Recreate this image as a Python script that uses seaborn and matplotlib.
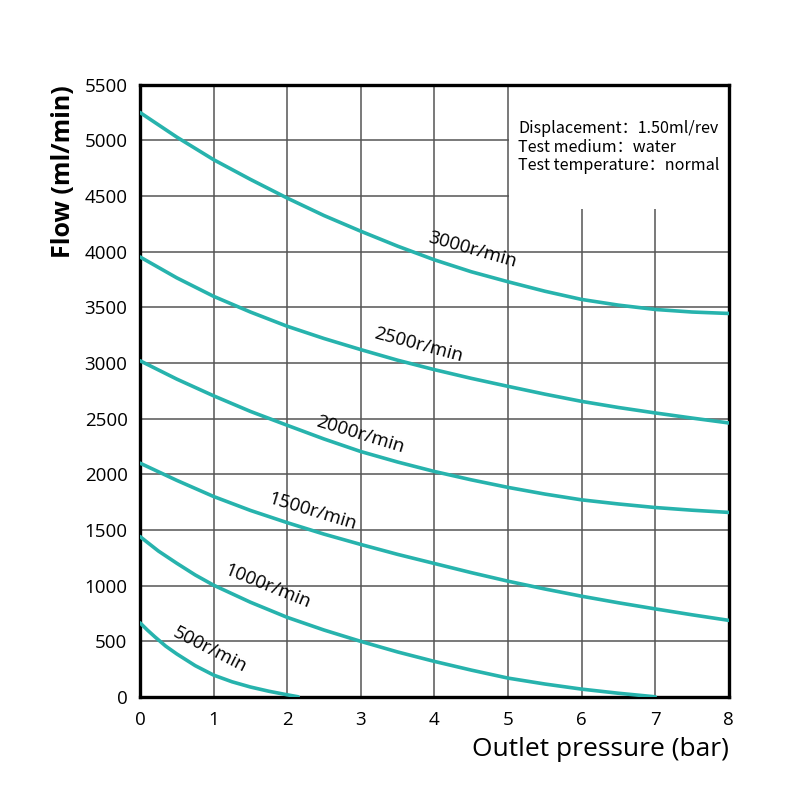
## pump flow vs outlet pressure curves
import matplotlib
matplotlib.use("Agg")
import matplotlib.pyplot as plt
import matplotlib.patches as patches
import seaborn as sns
import pandas as pd

## values
speeds = ["500r/min", "1000r/min", "1500r/min", "2000r/min", "2500r/min", "3000r/min"]

p_500 = [0, 0.1, 0.2, 0.35, 0.5, 0.75, 1, 1.25, 1.5, 1.75, 2, 2.15]
q_500 = [665, 600, 540, 455, 385, 280, 195, 135, 88, 50, 18, 0]
p_1000 = [0, 0.25, 0.5, 0.75, 1, 1.5, 2, 2.5, 3, 3.5, 4, 4.5, 5, 5.5, 6, 6.5, 7]
q_1000 = [1440, 1310, 1200, 1095, 1003, 850, 714, 600, 498, 403, 318, 240,
          168, 115, 69, 32, 0]
p_main = [0, 0.5, 1, 1.5, 2, 2.5, 3, 3.5, 4, 4.5, 5, 5.5, 6, 6.5, 7, 7.5, 8]
q_1500 = [2100, 1945, 1800, 1675, 1565, 1462, 1369, 1280, 1198, 1116, 1039,
          969, 904, 845, 790, 737, 687]
q_2000 = [3020, 2855, 2705, 2565, 2440, 2317, 2204, 2110, 2025, 1950, 1882,
          1822, 1770, 1733, 1701, 1677, 1657]
q_2500 = [3953, 3765, 3599, 3458, 3330, 3220, 3120, 3025, 2940, 2862, 2790,
          2720, 2655, 2600, 2551, 2505, 2461]
q_3000 = [5251, 5030, 4827, 4650, 4482, 4325, 4184, 4050, 3927, 3820, 3730,
          3645, 3571, 3520, 3481, 3458, 3445]

## label anchor (x, y) and angle for each curve
label_x = [0.95, 1.73, 2.34, 2.99, 3.78, 4.51]
label_y = [422, 988, 1662, 2354, 3163, 4016]
label_rot = [-27, -22, -17, -17, -15, -16]

info_lines = ["Displacement：1.50ml/rev", "Test medium：water", "Test temperature：normal"]

x_ticks = list(range(0, 9))
y_ticks = list(range(0, 5501, 500))

series = [(p_500, q_500), (p_1000, q_1000), (p_main, q_1500),
          (p_main, q_2000), (p_main, q_2500), (p_main, q_3000)]
rows = []
for name, (px, qy) in zip(speeds, series):
    for a, b in zip(px, qy):
        rows.append({"pressure": a, "flow": b, "speed": name})
df = pd.DataFrame(rows)

sns.set_style("white")
plt.rcParams["font.family"] = ["Open Sans", "Noto Sans CJK SC", "DejaVu Sans"]
plt.rcParams["text.color"] = "black"
plt.rcParams["axes.labelcolor"] = "black"

teal = "#27b3ad"
fig = plt.figure(figsize=(8, 8), dpi=100)
ax = fig.add_axes([0.175, 0.129, 0.736, 0.765])

sns.lineplot(data=df, x="pressure", y="flow", hue="speed", hue_order=speeds,
             palette=[teal] * len(speeds), linewidth=2.6, legend=False,
             sort=True, ax=ax, zorder=3)

ax.set_xlim(0, 8)
ax.set_ylim(0, 5500)
ax.set_xticks(x_ticks)
ax.set_yticks(y_ticks)
ax.set_axisbelow(True)
ax.grid(True, color="#555555", linewidth=1.1)
ax.tick_params(axis="both", length=0, labelsize=13.5, colors="black")
ax.tick_params(axis="x", pad=10)
ax.tick_params(axis="y", pad=9)
for s in ax.spines.values():
    s.set_color("black")
    s.set_linewidth(2.4)

## blank area behind the info text
ax.add_patch(patches.Rectangle((5.02, 4380), 3.0, 1200, facecolor="white",
                               edgecolor="none", zorder=1))

for name, lx, ly, rot in zip(speeds, label_x, label_y, label_rot):
    ax.text(lx, ly, name, rotation=rot, fontsize=13.5, ha="center", va="center",
            rotation_mode="anchor", zorder=4)

for i, line in enumerate(info_lines):
    ax.text(5.14, 5105 - i * 165, line, fontsize=11.6, ha="left", va="center",
            family=["Noto Sans CJK SC", "DejaVu Sans"], zorder=4)

ax.set_xlabel("Outlet pressure (bar)", fontsize=19, loc="right", labelpad=6)
ax.set_ylabel("Flow (ml/min)", fontsize=18, fontweight="bold", loc="top", labelpad=6)

fig.savefig("out.png", dpi=100)
